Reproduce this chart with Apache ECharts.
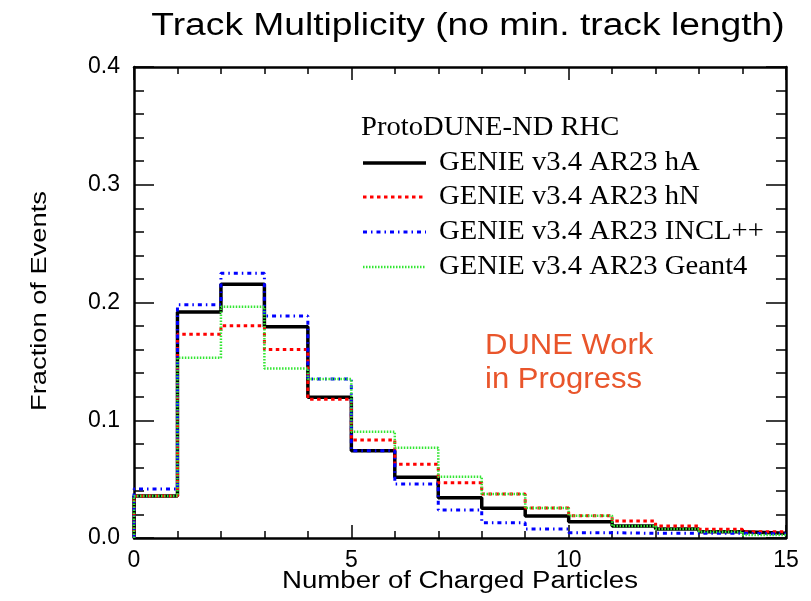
<!DOCTYPE html>
<html>
<head>
<meta charset="utf-8">
<script src="https://cdn.jsdelivr.net/npm/echarts@6/dist/echarts.min.js"></script>
<style>html,body{margin:0;padding:0;background:#fff;}#c{width:811px;height:601px;}</style>
</head>
<body>
<div id="c"></div>
<script>
// Bin edges 0..15 (number of charged particles)
var binEdges = [0,1,2,3,4,5,6,7,8,9,10,11,12,13,14,15];
var xTicks = [0,5,10,15];
var yTicks = [0.0,0.1,0.2,0.3,0.4];

var seriesNames = ['GENIE v3.4 AR23 hA','GENIE v3.4 AR23 hN','GENIE v3.4 AR23 INCL++','GENIE v3.4 AR23 Geant4'];
var valsHA     = [0.0357,0.192,0.2155,0.1795,0.1195,0.0741,0.0516,0.0342,0.0252,0.0187,0.0138,0.0102,0.0076,0.0054,0.0040];
var valsHN     = [0.0357,0.173,0.1803,0.1600,0.1178,0.0832,0.0626,0.0470,0.0374,0.0255,0.0190,0.0144,0.0102,0.0074,0.0054];
var valsINCL   = [0.0416,0.198,0.2248,0.1885,0.1350,0.0741,0.0459,0.0238,0.0130,0.0076,0.0045,0.0040,0.0040,0.0040,0.0035];
var valsGeant4 = [0.0357,0.153,0.1964,0.1440,0.1350,0.0903,0.0767,0.0520,0.0374,0.0255,0.0190,0.0102,0.0076,0.0054,0.0025];

var titleText = 'Track Multiplicity (no min. track length)';
var xTitle = 'Number of Charged Particles';
var yTitle = 'Fraction of Events';
var legendHeader = 'ProtoDUNE-ND RHC';
var wipText = 'DUNE Work\nin Progress';

function histData(vals){
  var d = [[binEdges[0], 0]];
  for (var i = 0; i < vals.length; i++) d.push([binEdges[i], vals[i]]);
  d.push([binEdges[vals.length], vals[vals.length-1]]);
  return d;
}

var styles = [
  {color:'#000000', width:3.5, type:'solid'},
  {color:'#ff0000', width:3, type:[3.5,3.5]},
  {color:'#0000ff', width:3, type:[4,4,1.5,4]},
  {color:'#33e633', width:2.5, type:[1.5,1.5]}
];
var allVals = [valsHA, valsHN, valsINCL, valsGeant4];

var chart = echarts.init(document.getElementById('c'), null, {renderer:'canvas'});

var series = allVals.map(function(v, i){
  return {
    name: seriesNames[i], type:'line', step:'end', data: histData(v),
    symbol:'none', xAxisIndex:0, yAxisIndex:0,
    lineStyle:{color:styles[i].color, width:styles[i].width, type:styles[i].type},
    z: 3 + i
  };
});

var SANS = '"Liberation Sans", Arial, sans-serif';
var SERIF = '"Liberation Serif", "DejaVu Serif", serif';

var g = [
  // title
  {type:'text', x:468, y:26, scaleX:1.2, style:{text:titleText, font:'31px ' + SANS, fill:'#000', align:'center', verticalAlign:'middle'}},
  // axis titles
  {type:'text', x:460, y:582, scaleX:1.2, style:{text:xTitle, font:'23px ' + SANS, fill:'#000', align:'center', verticalAlign:'middle'}},
  {type:'text', x:40, y:301, rotation:Math.PI/2, scaleX:1.24, style:{text:yTitle, font:'22px ' + SANS, fill:'#000', align:'center', verticalAlign:'middle'}},
  // legend header
  {type:'text', x:361, y:128, scaleX:1.06, style:{text:legendHeader, font:'27px ' + SERIF, fill:'#000', align:'left', verticalAlign:'middle'}, z:10}
];
var legY = [163, 197, 232, 267];
for (var i = 0; i < 4; i++) {
  g.push({type:'line', shape:{x1:363, y1:legY[i], x2:426, y2:legY[i]},
    style:{stroke:styles[i].color, lineWidth:styles[i].width, lineDash: styles[i].type === 'solid' ? null : styles[i].type}, z:10});
  g.push({type:'text', x:439, y:legY[i], scaleX:1.06, style:{text:seriesNames[i], font:'27px ' + SERIF, fill:'#000', align:'left', verticalAlign:'middle'}, z:10});
}
g.push({type:'text', x:485, y:363, scaleX:1.07, style:{text:wipText, font:'29px ' + SANS, fill:'#e9552b', lineHeight:34, align:'left', verticalAlign:'middle'}, z:10});

var labelFont = {fontFamily:SANS, fontSize:23, color:'#000'};

chart.setOption({
  animation:false,
  backgroundColor:'#fff',
  grid:{left:134, right:25, top:67, bottom:63, containLabel:false},
  xAxis:[
    {type:'value', min:0, max:15, interval:5, position:'bottom',
     axisLine:{show:true, onZero:false, lineStyle:{color:'#000', width:2.5}},
     axisTick:{show:true, inside:true, length:13, lineStyle:{color:'#000', width:1.5}},
     minorTick:{show:true, splitNumber:5, length:7, lineStyle:{color:'#000', width:1.5}},
     axisLabel:Object.assign({margin:11, formatter:function(v){return xTicks.indexOf(v)>=0 ? String(v) : '';}}, labelFont),
     splitLine:{show:false}},
    {type:'value', min:0, max:15, interval:5, position:'top',
     axisLine:{show:true, onZero:false, lineStyle:{color:'#000', width:2.5}},
     axisTick:{show:true, inside:true, length:13, lineStyle:{color:'#000', width:1.5}},
     minorTick:{show:true, splitNumber:5, length:7, lineStyle:{color:'#000', width:1.5}},
     axisLabel:{show:false}, splitLine:{show:false}}
  ],
  yAxis:[
    {type:'value', min:0, max:0.4, interval:0.1, position:'left',
     axisLine:{show:true, onZero:false, lineStyle:{color:'#000', width:2.5}},
     axisTick:{show:true, inside:true, length:20, lineStyle:{color:'#000', width:1.5}},
     minorTick:{show:true, splitNumber:5, length:10, lineStyle:{color:'#000', width:1.5}},
     axisLabel:Object.assign({margin:14, formatter:function(v){return yTicks.indexOf(Math.round(v*10)/10)>=0 ? v.toFixed(1) : '';}}, labelFont),
     splitLine:{show:false}},
    {type:'value', min:0, max:0.4, interval:0.1, position:'right',
     axisLine:{show:true, onZero:false, lineStyle:{color:'#000', width:2.5}},
     axisTick:{show:true, inside:true, length:20, lineStyle:{color:'#000', width:1.5}},
     minorTick:{show:true, splitNumber:5, length:10, lineStyle:{color:'#000', width:1.5}},
     axisLabel:{show:false}, splitLine:{show:false}}
  ],
  series: series,
  graphic: g
});
</script>
</body>
</html>
